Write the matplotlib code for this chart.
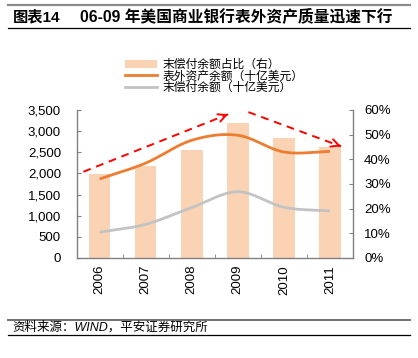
import numpy as np
import matplotlib
matplotlib.use("Agg")
import matplotlib.pyplot as plt
from matplotlib.lines import Line2D
from matplotlib.patches import Patch

plt.rcParams['font.family'] = ['Liberation Sans', 'Noto Sans CJK SC', 'DejaVu Sans']

years = ['2006', '2007', '2008', '2009', '2010', '2011']
unpaid_ratio = [34.1, 37.4, 43.9, 54.8, 48.7, 44.9]          # % right axis
offbalance_assets = [1869, 2244, 2784, 2903, 2507, 2521]    # 十亿美元
unpaid_balance = [611, 795, 1194, 1566, 1200, 1113]         # 十亿美元
left_ticks = [0, 500, 1000, 1500, 2000, 2500, 3000, 3500]
right_ticks = [0, 10, 20, 30, 40, 50, 60]
arrow1 = [(-0.35, 2040), (2.79, 3400)]
arrow2 = [(3.23, 3450), (5.24, 2640)]

labels = ['末偿付余额占比（右）', '表外资产余额（十亿美元）', '末偿付余额（十亿美元）']

BAR = '#F9D3B4'
ORANGE = '#ED7D31'
GRAY = '#C3C3C3'
SPINE = '#808080'


def smooth(x, y, n=30):
    x = np.asarray(x, float)
    y = np.asarray(y, float)
    px = np.concatenate([[2 * x[0] - x[1]], x, [2 * x[-1] - x[-2]]])
    py = np.concatenate([[2 * y[0] - y[1]], y, [2 * y[-1] - y[-2]]])
    xs, ys = [], []
    for i in range(1, len(px) - 2):
        t = np.linspace(0, 1, n, endpoint=(i == len(px) - 3))
        p0, p1, p2, p3 = py[i - 1], py[i], py[i + 1], py[i + 2]
        q0, q1, q2, q3 = px[i - 1], px[i], px[i + 1], px[i + 2]
        for arr, a0, a1, a2, a3 in ((xs, q0, q1, q2, q3), (ys, p0, p1, p2, p3)):
            arr.extend(0.5 * ((2 * a1) + (-a0 + a2) * t + (2 * a0 - 5 * a1 + 4 * a2 - a3) * t ** 2
                              + (-a0 + 3 * a1 - 3 * a2 + a3) * t ** 3))
    return np.array(xs), np.array(ys)


W, H = 418, 358
fig = plt.figure(figsize=(W / 100, H / 100), dpi=100)
ax = fig.add_axes([77 / W, 1 - 258 / H, 276 / W, 148 / H])
ax2 = ax.twinx()
ax.set_zorder(ax2.get_zorder() + 1)
ax.patch.set_visible(False)

x = np.arange(len(years))
ax2.bar(x, unpaid_ratio, width=0.47, color=BAR, zorder=1)
sx, sy = smooth(x, offbalance_assets)
ax.plot(sx, sy, color=ORANGE, lw=2.0, solid_capstyle='butt')
sx, sy = smooth(x, unpaid_balance)
ax.plot(sx, sy, color=GRAY, lw=2.0, solid_capstyle='butt')

for (p0, p1) in (arrow1, arrow2):
    ax.plot([p0[0], p1[0]], [p0[1], p1[1]], color='red', lw=1.4, ls=(0, (4, 3)))
    d = np.array(p1) - np.array(p0)
    ax.annotate('', xy=p1, xytext=(p1[0] - d[0] * 0.02, p1[1] - d[1] * 0.02),
                arrowprops=dict(arrowstyle='->', color='red', lw=1.4, mutation_scale=14,
                                shrinkA=0, shrinkB=0))

ax.set_xlim(-0.49, 5.5)
ax.set_ylim(0, 3500)
ax2.set_ylim(0, 60)
ax.set_yticks(left_ticks)
ax.set_yticklabels([f'{v:,}' for v in left_ticks])
ax2.set_yticks(right_ticks)
ax2.set_yticklabels([f'{v}%' for v in right_ticks])
ax.set_xticks(x)
ax.set_xticklabels(years, rotation=90)
ax.set_xticks(np.arange(0.5, 5.6, 1.0), minor=True)

for a in (ax, ax2):
    a.spines['top'].set_visible(False)
    for s in ('left', 'right', 'bottom'):
        a.spines[s].set_color(SPINE)
        a.spines[s].set_linewidth(1.0)
ax.spines['right'].set_visible(False)
ax2.spines['left'].set_visible(False)
ax2.spines['bottom'].set_visible(False)

ax.tick_params(axis='y', direction='in', length=3, color=SPINE, pad=11.5, labelsize=9.5)
ax2.tick_params(axis='y', direction='in', length=3, color=SPINE, pad=8, labelsize=9.5)
ax.tick_params(axis='x', which='major', length=0, pad=5, labelsize=9.5)
ax.tick_params(axis='x', which='minor', direction='in', length=3, color=SPINE)

handles = [Patch(facecolor=BAR, edgecolor='none'),
           Line2D([], [], color=ORANGE, lw=2),
           Line2D([], [], color=GRAY, lw=2)]
fig.legend(handles, labels, loc='upper left', bbox_to_anchor=(125 / W, 1 - 59 / H),
           frameon=False, fontsize=8.5, handlelength=2.7, handletextpad=0.45,
           labelspacing=-0.05, borderpad=0, borderaxespad=0)

# title block
fig.text(12.7 / W, 1 - 17 / H, '图表14', fontsize=11, weight='bold', va='center')
fig.text(80 / W, 1 - 17 / H, '06-09 年美国商业银行表外资产质量迅速下行', fontsize=11.3,
         weight='bold', va='center')
fig.add_artist(Line2D([8 / W, 410 / W], [1 - 4.7 / H] * 2, color='#8C8C8C', lw=1.6))
fig.add_artist(Line2D([8 / W, 410 / W], [1 - 28.3 / H] * 2, color='black', lw=0.9))

# source block
fig.add_artist(Line2D([8 / W, 410 / W], [1 - 319.5 / H] * 2, color='#707070', lw=1.4))
fig.add_artist(Line2D([8 / W, 410 / W], [1 - 335 / H] * 2, color='black', lw=0.9))
fig.text(12.7 / W, 1 - 327 / H, '资料来源：WIND，平安证券研究所', fontsize=9,
         style='italic', va='center')

fig.savefig('out.png', dpi=100)
